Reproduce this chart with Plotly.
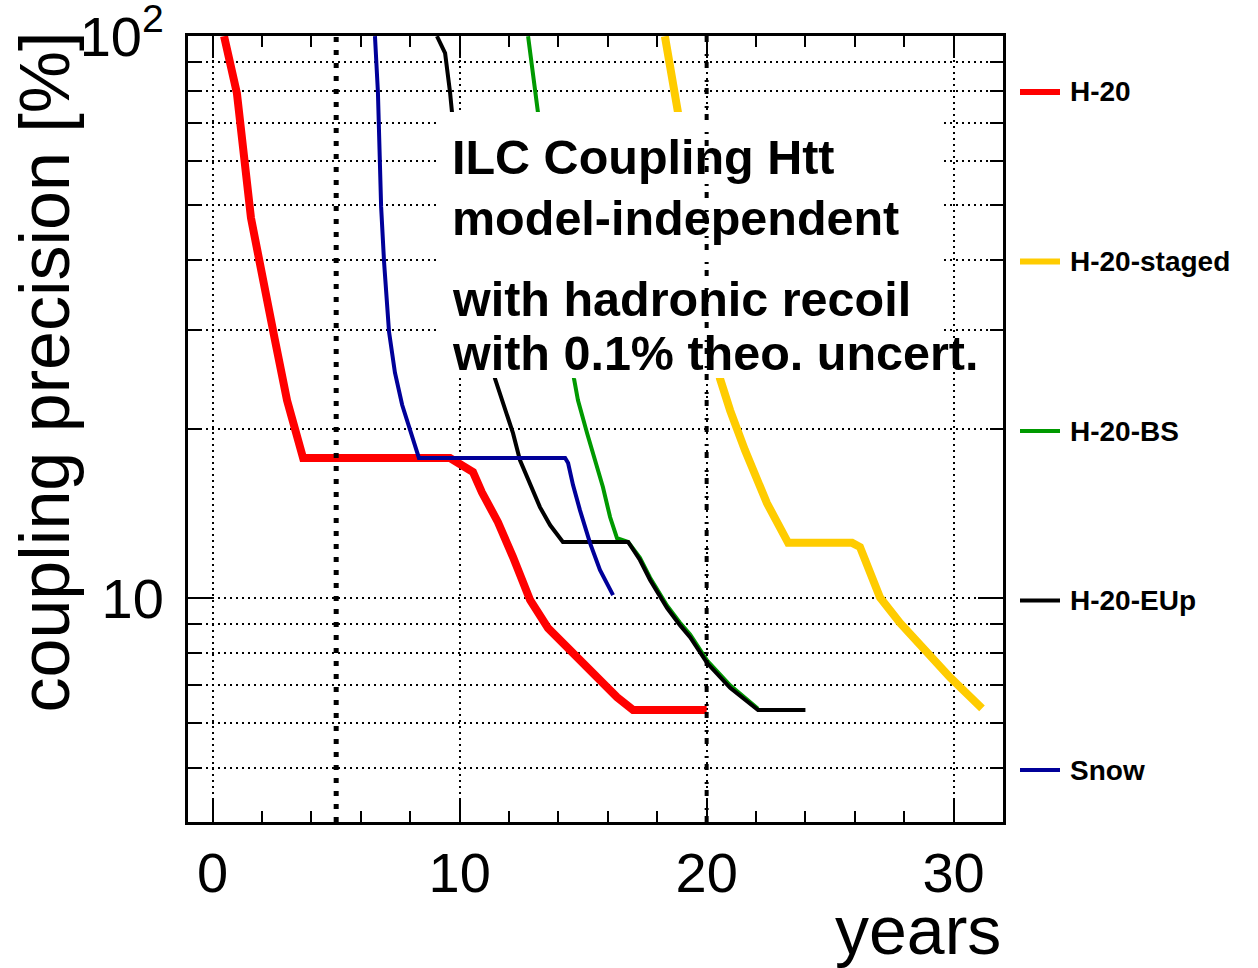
import math
import plotly.graph_objects as go

# ---------------------------------------------------------------- data
# Htt coupling precision [%] versus running time [years] for each scenario
h20_years = [0.46, 0.98, 1.55, 1.83, 2.12, 2.52, 3.01, 3.66, 9.61, 10.14, 10.54,
             10.90, 11.55, 12.16, 12.85, 13.58, 14.35, 15.28, 16.37, 17.02, 20.0]
h20_prec = [100, 79.2, 47.5, 40.8, 35.3, 28.8, 22.5, 17.77, 17.77, 17.26, 16.77,
            15.44, 13.66, 11.84, 9.93, 8.85, 8.16, 7.46, 6.67, 6.33, 6.33]

staged_years = [18.31, 18.84, 20.54, 20.95, 21.55, 22.04, 22.44, 23.30, 25.89,
                26.21, 27.02, 27.83, 28.92, 29.85, 31.15]
staged_prec = [100, 73.2, 24.6, 21.6, 18.35, 16.23, 14.77, 12.55, 12.55,
               12.34, 10.03, 9.04, 7.98, 7.24, 6.37]

bs_years = [12.77, 13.17, 14.63, 14.79, 15.16, 15.56, 15.80, 16.09, 16.37, 16.82,
            17.30, 17.71, 18.40, 18.92, 19.33, 20.02, 20.95, 22.08]
bs_prec = [100, 73.2, 24.6, 22.5, 19.67, 17.13, 15.78, 13.95, 12.8, 12.6,
           11.80, 10.88, 9.70, 9.05, 8.62, 7.75, 7.00, 6.36]

eup_years = [9.08, 9.41, 9.61, 9.69, 11.43, 11.71, 12.16, 12.44, 12.85, 13.25,
             13.66, 14.18, 16.82, 17.30, 17.71, 18.40, 18.92, 19.33, 20.02, 20.95,
             22.08, 24.0]
eup_prec = [100, 93.3, 79.5, 73.2, 24.6, 22.5, 19.67, 17.62, 16.03, 14.53,
            13.5, 12.6, 12.6, 11.70, 10.78, 9.61, 8.96, 8.53, 7.67, 6.93,
            6.33, 6.33]

snow_years = [6.57, 6.69, 6.82, 6.94, 7.14, 7.38, 7.67, 7.99, 8.35, 14.27,
              14.39, 14.59, 14.87, 15.28, 15.68, 16.21]
snow_prec = [100, 79.5, 49.7, 39.6, 29.8, 25.2, 22.1, 19.9, 17.77, 17.77,
             17.4, 15.9, 14.35, 12.54, 11.23, 10.13]

scenario_names = ["H-20", "H-20-staged", "H-20-BS", "H-20-EUp", "Snow"]
milestone_years = [5, 20]

x_tick_vals = [0, 10, 20, 30]
y_tick_vals = [10, 100]
y_tick_text = ["10", "10<sup>2</sup>"]
y_minor_vals = [5, 6, 7, 8, 9, 20, 30, 40, 50, 60, 70, 80, 90]

info_lines = ["ILC Coupling Htt", "model-independent",
              "with hadronic recoil", "with 0.1% theo. uncert."]

# ---------------------------------------------------------------- styling
W, H = 1258, 968
L, R, T, B = 188, 1003, 36, 822          # plot frame in pixels
FONT = "Liberation Sans, Arial, Helvetica, sans-serif"

series = [
    (h20_years, h20_prec, "#ff0000", 8),
    (staged_years, staged_prec, "#ffcc00", 8),
    (bs_years, bs_prec, "#009900", 4),
    (eup_years, eup_prec, "#000000", 4),
    (snow_years, snow_prec, "#000099", 4),
]


def px_x(p):
    return (p - L) / (R - L)


def px_y(p):
    return 1 - (p - T) / (B - T)


fig = go.Figure()
for (xs, ys, col, w), name in zip(series, scenario_names):
    fig.add_trace(go.Scatter(x=xs, y=ys, mode="lines", name=name,
                             line=dict(color=col, width=w), showlegend=False))

shapes = []
# white panel behind the description text
shapes.append(dict(type="rect", xref="paper", yref="paper",
                   x0=px_x(440), x1=px_x(943), y0=px_y(378), y1=px_y(112),
                   fillcolor="white", line=dict(width=0), layer="above"))
# milestone markers at 5 and 20 years
shapes.append(dict(type="line", xref="x", yref="paper",
                   x0=milestone_years[0], x1=milestone_years[0], y0=0, y1=1,
                   line=dict(color="black", width=5, dash="5px,8px"), layer="above"))
shapes.append(dict(type="line", xref="x", yref="paper",
                   x0=milestone_years[1], x1=milestone_years[1], y0=0, y1=1,
                   line=dict(color="black", width=4, dash="6px,6px,2px,12px"),
                   layer="above"))

annotations = []
# description text
line_centers = [157, 218, 299, 353]
for txt, yc in zip(info_lines, line_centers):
    annotations.append(dict(text=f"<b>{txt}</b>", xref="paper", yref="paper",
                            x=px_x(450), y=px_y(yc), xanchor="left", yanchor="middle",
                            showarrow=False, font=dict(family=FONT, size=48.5, color="black")))

# key on the right-hand side
key_top, key_bottom = 92, 770
step = (key_bottom - key_top) / (len(scenario_names) - 1)
for i, ((xs, ys, col, w), name) in enumerate(zip(series, scenario_names)):
    yc = key_top + i * step
    shapes.append(dict(type="line", xref="paper", yref="paper",
                       x0=px_x(1020), x1=px_x(1060), y0=px_y(yc), y1=px_y(yc),
                       line=dict(color=col, width=6 if w > 5 else 4)))
    annotations.append(dict(text=f"<b>{name}</b>", xref="paper", yref="paper",
                            x=px_x(1068), y=px_y(yc), xanchor="left", yanchor="middle",
                            showarrow=False, font=dict(family=FONT, size=28, color="black")))

# axis titles
annotations.append(dict(text="coupling precision [%]", xref="paper", yref="paper",
                        x=px_x(44), y=px_y(30), xanchor="center", yanchor="top",
                        textangle=-90, showarrow=False,
                        font=dict(family=FONT, size=70, color="black")))
annotations.append(dict(text="years", xref="paper", yref="paper",
                        x=1.0, y=px_y(930), xanchor="right", yanchor="middle",
                        showarrow=False, font=dict(family=FONT, size=68, color="black")))

grid = dict(gridcolor="black", gridwidth=1.6, griddash="2px,4px")

fig.update_layout(
    width=W, height=H,
    margin=dict(l=L, r=W - R, t=T, b=H - B, autoexpand=False),
    paper_bgcolor="white", plot_bgcolor="white",
    font=dict(family=FONT, color="black"),
    shapes=shapes, annotations=annotations,
    xaxis=dict(range=[-1, 32], tickmode="array", tickvals=x_tick_vals,
               automargin=False,
               ticks="inside", ticklen=22, tickwidth=2, tickcolor="black",
               showline=True, linewidth=3, linecolor="black", mirror="ticks",
               showgrid=True, zeroline=False, **grid,
               tickfont=dict(family=FONT, size=56, color="black"),
               ticklabelstandoff=0,
               minor=dict(tickmode="linear", tick0=0, dtick=2, ticks="inside",
                          ticklen=11, tickwidth=2, tickcolor="black", showgrid=False)),
    yaxis=dict(type="log", range=[math.log10(4), 2.0004], tickmode="array",
               tickvals=y_tick_vals, ticktext=y_tick_text, automargin=False,
               ticks="inside", ticklen=25, tickwidth=2, tickcolor="black",
               showline=True, linewidth=3, linecolor="black", mirror="ticks",
               showgrid=True, zeroline=False, **grid,
               tickfont=dict(family=FONT, size=56, color="black"),
               ticklabelstandoff=10, ticklabeloverflow="allow",
               minor=dict(tickmode="array", tickvals=y_minor_vals, ticks="inside",
                          ticklen=13, tickwidth=2, tickcolor="black",
                          showgrid=True, **grid)),
)

fig.write_html("out.html")
